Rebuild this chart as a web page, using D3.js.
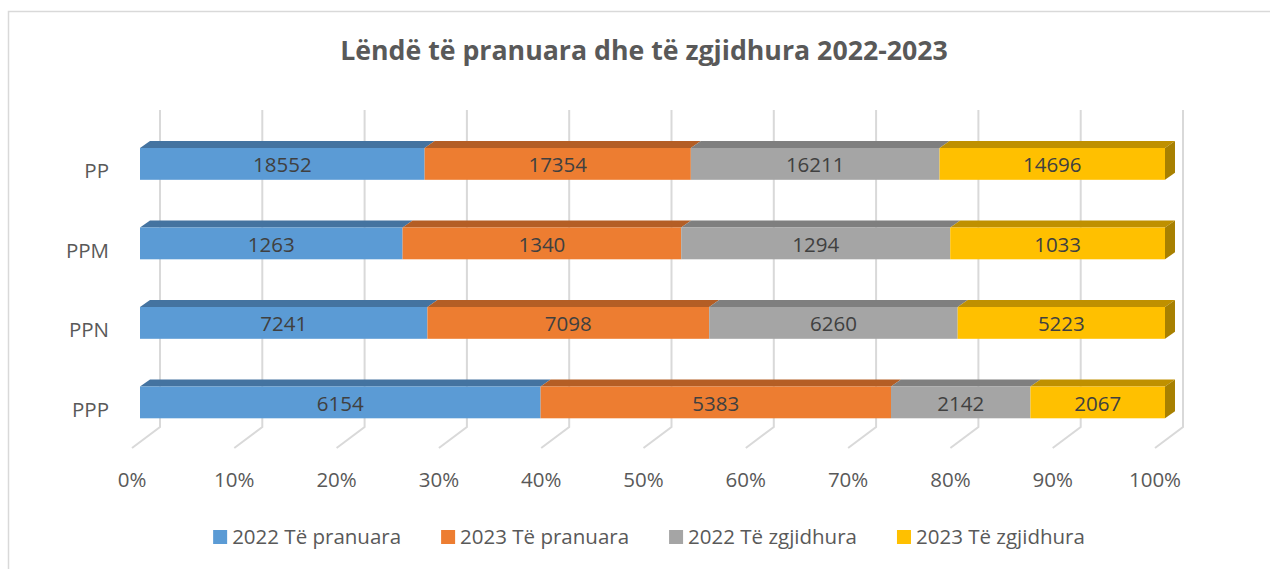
<!DOCTYPE html>
<html>
<head>
<meta charset="utf-8">
<script src="https://cdnjs.cloudflare.com/ajax/libs/d3/7.8.5/d3.min.js"></script>
<style>
  body{margin:0;background:#fff;}
  text{font-family:"Open Sans",sans-serif;}
</style>
</head>
<body>
<div id="canvas"></div>
<script>
// data
var categories = ['PP','PPM','PPN','PPP'];
var seriesNames = ['2022 Të pranuara','2023 Të pranuara','2022 Të zgjidhura','2023 Të zgjidhura'];
var pranuara2022 = [18552,1263,7241,6154];
var pranuara2023 = [17354,1340,7098,5383];
var zgjidhura2022 = [16211,1294,6260,2142];
var zgjidhura2023 = [14696,1033,5223,2067];
var tickValues = [0,0.1,0.2,0.3,0.4,0.5,0.6,0.7,0.8,0.9,1];
var title = 'Lëndë të pranuara dhe të zgjidhura 2022-2023';

var colors = ['#5B9BD5','#ED7D31','#A5A5A5','#FFC000'];
var topColors = ['#4473A0','#B45E25','#7F7F7F','#BF9000'];
var sideColor = '#A88000';

var W = 1270, H = 569;
var svg = d3.select('#canvas').append('svg')
    .attr('width',W).attr('height',H);

// chart border
svg.append('rect')
    .attr('x',8.5).attr('y',11.5)
    .attr('width',W+20).attr('height',H+20)
    .attr('fill','#fff').attr('stroke','#d9d9d9').attr('stroke-width',1.5);

// table for the stack
var rows = categories.map(function(c,i){
    return {cat:c, s0:pranuara2022[i], s1:pranuara2023[i], s2:zgjidhura2022[i], s3:zgjidhura2023[i]};
});
var keys = ['s0','s1','s2','s3'];
var stacked = d3.stack().keys(keys).offset(d3.stackOffsetExpand)(rows);

// scales: front face of bars, back wall, front of floor
var xBar = d3.scaleLinear().domain([0,1]).range([140,1165]);
var xBack = d3.scaleLinear().domain([0,1]).range([160,1183]);
var xFloor = d3.scaleLinear().domain([0,1]).range([132,1155]);
var y = d3.scaleBand().domain(categories).range([124.15,442.15])
    .paddingInner(0.6).paddingOuter(0.3);

var wallTop = 110, wallBottom = 427, floorFront = 448;
var dx = 10, dy = -7;

// gridlines on wall and floor
var grid = svg.append('g');
grid.selectAll('path.grid').data(tickValues).enter().append('path')
    .attr('class','grid')
    .attr('d',function(d){
        return 'M'+xBack(d)+','+wallTop+'L'+xBack(d)+','+wallBottom+'L'+xFloor(d)+','+floorFront;
    })
    .attr('fill','none').attr('stroke','#d9d9d9').attr('stroke-width',2);

// tick labels
svg.selectAll('text.tick').data(tickValues).enter().append('text')
    .attr('class','tick')
    .attr('x',function(d){return xFloor(d);})
    .attr('y',487)
    .attr('text-anchor','middle')
    .attr('font-size',20.5)
    .attr('fill','#595959')
    .text(function(d){return d3.format('.0%')(d);});

// category labels
svg.selectAll('text.cat').data(categories).enter().append('text')
    .attr('class','cat')
    .attr('x',109)
    .attr('y',function(d){return y(d)+y.bandwidth()/2+7;})
    .attr('dy','0.35em')
    .attr('text-anchor','end')
    .attr('font-size',20.5)
    .attr('fill','#595959')
    .text(function(d){return d;});

// bars
var layers = svg.selectAll('g.layer').data(stacked).enter().append('g')
    .attr('class','layer');

layers.each(function(layer,li){
    var g = d3.select(this);
    layer.forEach(function(seg){
        var x0 = xBar(seg[0]), x1 = xBar(seg[1]);
        var yt = y(seg.data.cat), h = y.bandwidth();
        g.append('path')
            .attr('d','M'+x0+','+yt+'L'+x1+','+yt+'L'+(x1+dx)+','+(yt+dy)+'L'+(x0+dx)+','+(yt+dy)+'Z')
            .attr('fill',topColors[li]);
        g.append('rect')
            .attr('x',x0).attr('y',yt)
            .attr('width',x1-x0).attr('height',h)
            .attr('fill',colors[li]);
        if(li===keys.length-1){
            g.append('path')
                .attr('d','M'+x1+','+yt+'L'+(x1+dx)+','+(yt+dy)+'L'+(x1+dx)+','+(yt+h+dy)+'L'+x1+','+(yt+h)+'Z')
                .attr('fill',sideColor);
        }
        g.append('text')
            .attr('x',(x0+x1)/2)
            .attr('y',yt+h/2+1)
            .attr('dy','0.35em')
            .attr('text-anchor','middle')
            .attr('font-size',20.5)
            .attr('fill','#404040')
            .text(seg.data[layer.key]);
    });
});

// title, fitted to the width seen in the picture
var t = svg.append('text')
    .attr('x',644).attr('y',60)
    .attr('text-anchor','middle')
    .attr('font-size',25)
    .attr('font-weight','bold')
    .attr('fill','#595959')
    .text(title);
var tw = t.node().getComputedTextLength();
t.attr('font-size',25*608/tw);

// legend
var legend = svg.append('g');
var items = legend.selectAll('g.item').data(seriesNames).enter().append('g')
    .attr('class','item');
items.append('rect')
    .attr('width',14).attr('height',14)
    .attr('y',530)
    .attr('fill',function(d,i){return colors[i];});
items.append('text')
    .attr('x',19).attr('y',544)
    .attr('font-size',20.5)
    .attr('fill','#595959')
    .text(function(d){return d;});
var widths = [];
items.select('text').each(function(){widths.push(this.getComputedTextLength());});
var gap = 40, total = 0;
widths.forEach(function(w,i){total += 19 + w + (i<widths.length-1?gap:0);});
var cx = 649 - total/2;
items.attr('transform',function(d,i){
    var x = cx;
    cx += 19 + widths[i] + gap;
    return 'translate('+x+',0)';
});
</script>
</body>
</html>
